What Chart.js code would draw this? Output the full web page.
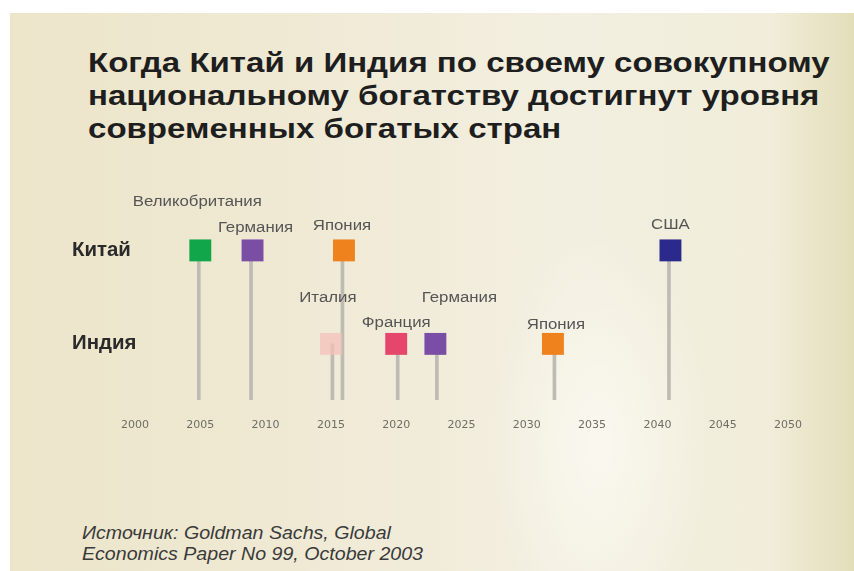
<!DOCTYPE html>
<html>
<head>
<meta charset="utf-8">
<script src="https://cdn.jsdelivr.net/npm/chart.js@4.4.1/dist/chart.umd.min.js"></script>
<style>
  html, body { margin: 0; padding: 0; }
  body {
    width: 854px; height: 571px; position: relative; overflow: hidden;
    background: #ffffff;
  }
  #bg {
    position: absolute; left: 10px; top: 13px; right: 0; bottom: 0;
    background:
      radial-gradient(ellipse 160px 300px at 590px 430px, rgba(255,255,250,0.6), rgba(255,255,250,0) 70%),
      linear-gradient(90deg, #ece5ca 0px, #efe9d3 250px, #f3efe0 560px, #f1edda 760px, #e3deb9 844px);
  }
  #title {
    position: absolute; left: 88px; top: 46px;
    font: bold 28px "Liberation Sans", Arial, sans-serif;
    line-height: 33px; color: #1e1e1e;
    transform: scaleX(1.18); transform-origin: left top; white-space: nowrap;
  }
  #source {
    position: absolute; left: 82px; top: 523px;
    font: italic 17.5px "Liberation Sans", Arial, sans-serif;
    line-height: 20.5px; color: #3a3a3a;
    transform: scaleX(1.12); transform-origin: left top; white-space: nowrap;
  }
  #wrap { position: absolute; left: 0; top: 0; width: 854px; height: 571px; }
</style>
</head>
<body>
<div id="bg"></div>
<div id="title">Когда Китай и Индия по своему совокупному<br>национальному богатству достигнут уровня<br>современных богатых стран</div>
<div id="source">Источник: Goldman Sachs, Global<br>Economics Paper No 99, October 2003</div>
<div id="wrap"><canvas id="chart"></canvas></div>
<script>
// Данные
const rows = ['Китай', 'Индия'];
const tickYears = [2000, 2005, 2010, 2015, 2020, 2025, 2030, 2035, 2040, 2045, 2050];

const chinaCountries = ['Великобритания', 'Германия', 'Япония', 'США'];
const chinaYears = [2005, 2009, 2016, 2041];
const chinaColors = ['#12a64b', '#7b4ea6', '#f0821e', '#2b2a8c'];

const indiaCountries = ['Италия', 'Франция', 'Германия', 'Япония'];
const indiaYears = [2015, 2020, 2023, 2032];
const indiaColors = ['rgba(246,192,186,0.75)', '#e6466c', '#7b4ea6', '#f0821e'];

// Раскладка (уровни строк и сдвиги подписей)
const rowLevels = [8, 3];
const chinaLabelLift = [48, 22, 24, 25];
const chinaLabelShift = [-3, 3, -2, 0];
const indiaLabelLift = [46, 21, 46, 19];
const indiaLabelShift = [-3, 0, 24, 3];

function points(years, level) {
    return years.map(y => ({ x: y, y: level }));
}
function stems(years, level) {
    return years.map(y => ({ x: y, y: [0, level] }));
}

// растянутый по горизонтали текст, как в оригинале
function wideText(ctx, text, x, y, sx) {
    ctx.save();
    ctx.translate(x, y);
    ctx.scale(sx, 1);
    ctx.fillText(text, 0, 0);
    ctx.restore();
}

// Подписи стран и строк
const labelsPlugin = {
    id: 'labels',
    afterDatasetsDraw(chart) {
        const ctx = chart.ctx;
        ctx.save();
        ctx.textAlign = 'center';
        ctx.textBaseline = 'middle';
        ctx.fillStyle = '#555';
        ctx.font = '14px "Liberation Sans", Arial, sans-serif';
        const sets = [
            [2, chinaCountries, chinaLabelLift, chinaLabelShift],
            [3, indiaCountries, indiaLabelLift, indiaLabelShift]
        ];
        sets.forEach(([idx, names, lift, shift]) => {
            chart.getDatasetMeta(idx).data.forEach((el, i) => {
                wideText(ctx, names[i], el.x + shift[i], el.y - lift[i], 1.2);
            });
        });
        ctx.textAlign = 'left';
        ctx.fillStyle = '#2a2a2a';
        ctx.font = 'bold 20px "Liberation Sans", Arial, sans-serif';
        rows.forEach((r, i) => {
            wideText(ctx, r, 72, chart.scales.y.getPixelForValue(rowLevels[i]), 1.02);
        });
        ctx.restore();
    }
};

const ctx = document.getElementById('chart');
new Chart(ctx, {
    type: 'bar',
    data: {
        datasets: [
            { type: 'bar', data: stems(chinaYears, rowLevels[0]), backgroundColor: '#bdbcb4', barThickness: 3, order: 2 },
            { type: 'bar', data: stems(indiaYears, rowLevels[1]), backgroundColor: '#bdbcb4', barThickness: 3, order: 2 },
            { type: 'scatter', data: points(chinaYears, rowLevels[0]), backgroundColor: chinaColors,
              borderWidth: 0, pointStyle: 'rect', pointRadius: 15.5, order: 1 },
            { type: 'scatter', data: points(indiaYears, rowLevels[1]), backgroundColor: indiaColors,
              borderWidth: 0, pointStyle: 'rect', pointRadius: 15.5, order: 1 }
        ]
    },
    options: {
        responsive: true,
        maintainAspectRatio: false,
        animation: false,
        layout: { padding: { left: 135, right: 66, top: 213, bottom: 139 } },
        plugins: { legend: { display: false }, tooltip: { enabled: false } },
        scales: {
            x: {
                type: 'linear', min: 2000, max: 2050, offset: false,
                grid: { display: false, drawTicks: false },
                border: { display: false },
                afterBuildTicks: s => { s.ticks = tickYears.map(v => ({ value: v })); },
                afterFit: s => { s.height = 32; },
                ticks: {
                    padding: 19, color: '#6e6e66', autoSkip: false, maxRotation: 0,
                    font: { family: '"DejaVu Sans", sans-serif', size: 11 },
                    callback: v => String(v)
                }
            },
            y: {
                type: 'linear', min: 0, max: 10, display: false
            }
        }
    },
    plugins: [labelsPlugin]
});
</script>
</body>
</html>
